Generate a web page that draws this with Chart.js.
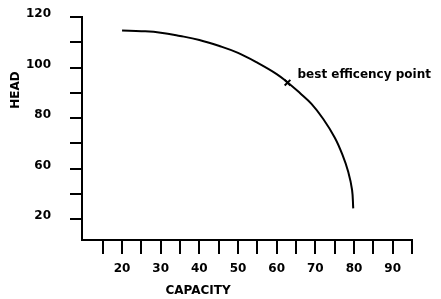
<!DOCTYPE html>
<html>
<head>
<meta charset="utf-8">
<script src="https://cdn.jsdelivr.net/npm/chart.js@4"></script>
<style>
  body { margin: 0; background: #fff; }
  canvas { display: block; }
</style>
</head>
<body>
<canvas id="pumpChart" width="441" height="299"></canvas>
<script>
// pump curve
var capacity = [20, 25, 30, 35, 40, 45, 50, 55, 60, 63, 66, 69, 72, 75, 77, 78.5, 79.5, 79.8];
var head     = [114.7, 114.4, 113.8, 112.5, 110.9, 108.6, 105.8, 101.9, 97.4, 93.9, 89.9, 85.6, 79.7, 72.3, 65.5, 58.7, 51.5, 44.2];

// best efficiency point
var bestCapacity = [62.8];
var bestHead = [94.0];
var bestLabel = "best efficency point";

// axis ticks (labels as printed on the original)
var xTickValues = [15, 20, 25, 30, 35, 40, 45, 50, 55, 60, 65, 70, 75, 80, 85, 90, 95];
var xTickLabels = ["", "20", "", "30", "", "40", "", "50", "", "60", "", "70", "", "80", "", "90", ""];
var yTickValues = [40, 50, 60, 70, 80, 90, 100, 110, 120];
var yTickLabels = ["20", "", "60", "", "80", "", "100", "", "120"];

Chart.defaults.font.family = "DejaVu Sans";
Chart.defaults.font.size = 12;
Chart.defaults.font.weight = "bold";
Chart.defaults.color = "#000";

var textPlugin = {
  id: "textPlugin",
  afterDraw: function(chart) {
    var ctx = chart.ctx;
    var xs = chart.scales.x, ys = chart.scales.y;
    ctx.save();
    ctx.fillStyle = "#000";
    ctx.font = "bold 12px 'DejaVu Sans'";
    ctx.textBaseline = "middle";
    ctx.textAlign = "center";
    // axis titles
    ctx.fillText("CAPACITY", 198, 291);
    ctx.save();
    ctx.translate(16, 90);
    ctx.rotate(-Math.PI / 2);
    ctx.fillText("HEAD", 0, 0);
    ctx.restore();
    // annotation
    ctx.textAlign = "left";
    var px = xs.getPixelForValue(bestCapacity[0]);
    var py = ys.getPixelForValue(bestHead[0]);
    ctx.fillText(bestLabel, px + 10, py - 8);
    ctx.restore();
  }
};

var ctx = document.getElementById("pumpChart");
var pumpChart = new Chart(ctx, {
  type: "scatter",
  data: {
    datasets: [{
      data: capacity.map(function(c, i) { return {x: c, y: head[i]}; }),
      showLine: true,
      fill: false,
      borderColor: "#000",
      borderWidth: 2,
      pointRadius: 0,
      tension: 0.4
    }, {
      data: bestCapacity.map(function(c, i) { return {x: c, y: bestHead[i]}; }),
      pointStyle: "crossRot",
      pointRadius: 4,
      borderColor: "#000",
      borderWidth: 2
    }]
  },
  options: {
    responsive: false,
    animation: false,
    layout: { padding: { left: 0, top: 17, right: 29, bottom: 0 } },
    plugins: { legend: { display: false }, tooltip: { enabled: false } },
    scales: {
      x: {
        type: "linear",
        min: 9.64,
        max: 95,
        afterBuildTicks: function(scale) {
          scale.ticks = xTickValues.map(function(v) { return {value: v}; });
        },
        afterFit: function(scale) {
          scale.height = 59;
          scale.paddingLeft = 0;
          scale.paddingRight = 0;
        },
        ticks: {
          autoSkip: false,
          maxRotation: 0,
          padding: 8,
          callback: function(value) {
            var i = xTickValues.indexOf(value);
            return i >= 0 ? xTickLabels[i] : "";
          }
        },
        grid: { drawOnChartArea: false, drawTicks: true, tickLength: 14, lineWidth: 2, color: "#000" },
        border: { display: true, color: "#000", width: 2 }
      },
      y: {
        type: "linear",
        min: 31.7,
        max: 120,
        afterBuildTicks: function(scale) {
          scale.ticks = yTickValues.map(function(v) { return {value: v}; });
        },
        afterFit: function(scale) {
          scale.width = 82;
          scale.paddingTop = 0;
          scale.paddingBottom = 0;
        },
        ticks: {
          autoSkip: false,
          padding: 19,
          labelOffset: -3,
          callback: function(value) {
            var i = yTickValues.indexOf(value);
            return i >= 0 ? yTickLabels[i] : "";
          }
        },
        grid: { drawOnChartArea: false, drawTicks: true, tickLength: 12, lineWidth: 2, color: "#000" },
        border: { display: true, color: "#000", width: 2 }
      }
    }
  },
  plugins: [textPlugin]
});
</script>
</body>
</html>
